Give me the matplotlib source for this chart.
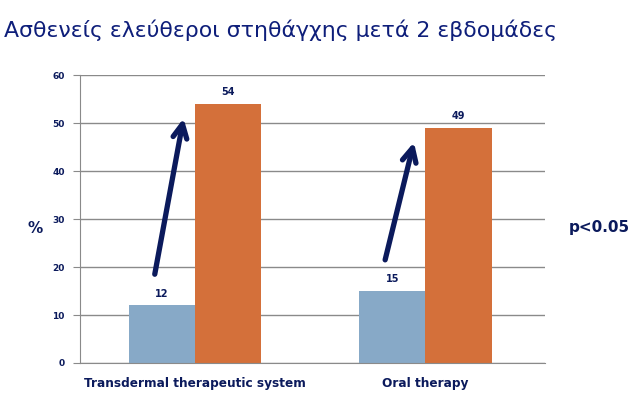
import numpy as np
import matplotlib.pyplot as plt
from matplotlib.transforms import ScaledTranslation

title = "Ασθενείς ελεύθεροι στηθάγχης μετά 2 εβδομάδες"
categories = ["Transdermal therapeutic system", "Oral therapy"]
before = [12, 15]
after = [54, 49]
yticks = [0, 10, 20, 30, 40, 50, 60]

navy = "#0b1a5c"
blue = "#87a9c7"
orange = "#d4703a"
grid = "#8a8a8a"

fig = plt.figure(figsize=(6.34, 4.04), dpi=100)
ax = fig.add_axes([0.126, 0.1015, 0.734, 0.7125])

x = np.arange(len(categories))
w = 0.287
b1 = ax.bar(x - w / 2, before, w, color=blue, zorder=2)
b2 = ax.bar(x + w / 2, after, w, color=orange, zorder=2)

for bars, vals in ((b1, before), (b2, after)):
    for r, v in zip(bars, vals):
        ax.text(r.get_x() + r.get_width() / 2, v + 1.4, str(v), ha="center", va="bottom",
                fontsize=7, fontweight="bold", color=navy)

# arrows from the before bar up to the after bar
for i in range(len(categories)):
    ax.annotate("", xy=(x[i] - 0.05, after[i] - 3), xytext=(x[i] - 0.175, before[i] + 6.5),
                arrowprops=dict(arrowstyle="->,head_length=1.0,head_width=0.5",
                                color=navy, lw=3.8, shrinkA=0, shrinkB=0), zorder=3)

ax.set_xlim(-0.5, 1.52)
ax.set_ylim(0, 60)
ax.set_yticks(yticks)
ax.set_yticklabels([str(t) for t in yticks], fontsize=6.5, fontweight="bold", color=navy)
ax.set_xticks(x)
ax.set_xticklabels(categories, fontsize=8.7, fontweight="bold", color=navy)
shift = ScaledTranslation(-7 / 100, 0, fig.dpi_scale_trans)
for lab in ax.get_xticklabels():
    lab.set_transform(lab.get_transform() + shift)
ax.tick_params(axis="x", length=0, pad=10)
ax.tick_params(axis="y", length=5, color=grid, pad=6)
ax.yaxis.grid(True, color=grid, lw=1, zorder=0)
ax.set_axisbelow(True)
for s in ["top", "right"]:
    ax.spines[s].set_visible(False)
ax.spines["left"].set_color(grid)
ax.spines["bottom"].set_color(grid)

fig.text(0.006, 0.925, title, fontsize=15.8, color="#0e1e7a", va="center", ha="left")
fig.text(0.055, 0.435, "%", fontsize=11, fontweight="bold", color=navy, va="center", ha="center")
fig.text(0.994, 0.438, "p<0.05", fontsize=11, fontweight="bold", color=navy, va="center", ha="right")

fig.savefig("out.png", dpi=100)
